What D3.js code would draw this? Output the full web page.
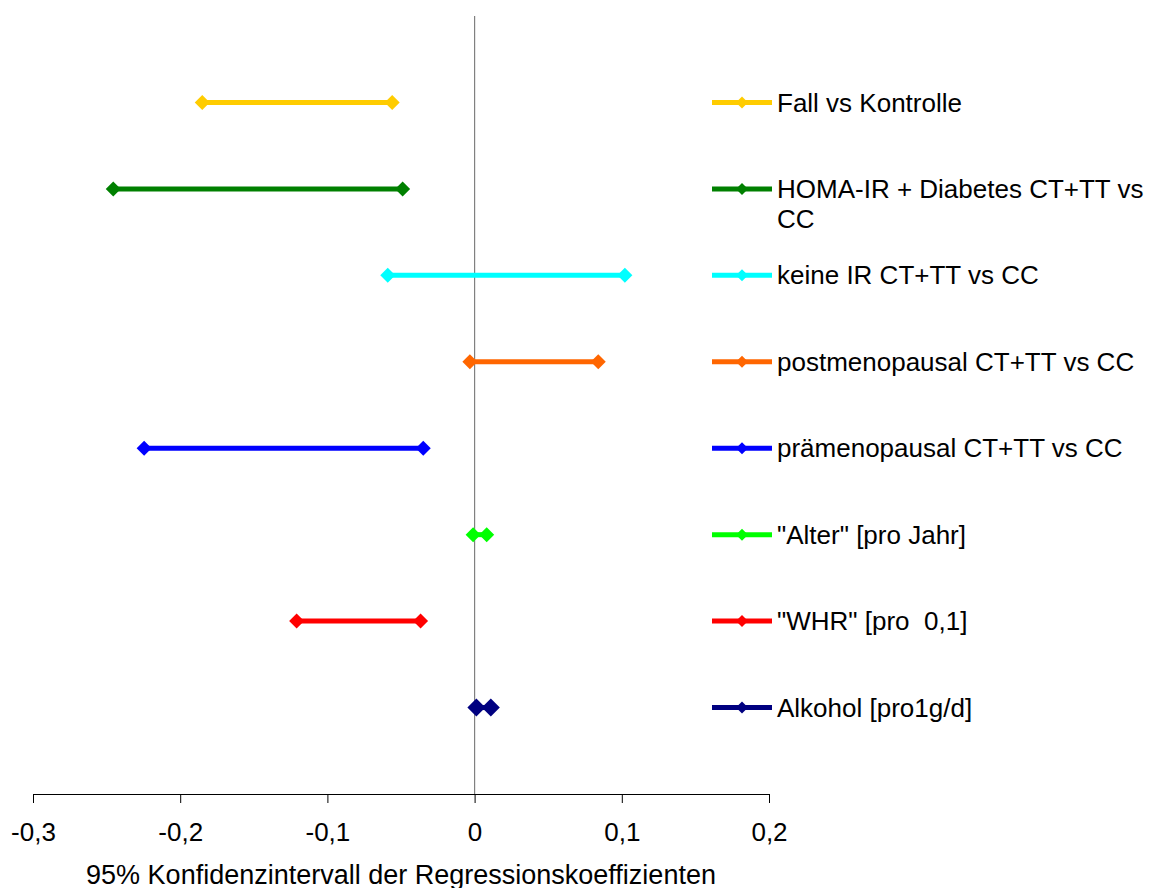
<!DOCTYPE html>
<html>
<head>
<meta charset="utf-8">
<script src="https://cdn.jsdelivr.net/npm/d3@7"></script>
<style>
  body { margin: 0; background: #fff; }
  svg text { font-family: "Liberation Sans", Arial, sans-serif; fill: #000; white-space: pre; }
</style>
</head>
<body>
<div id="chart"></div>
<script>
// series labels, top to bottom
const labels = [
  'Fall vs Kontrolle',
  'HOMA-IR + Diabetes CT+TT vs CC',
  'keine IR CT+TT vs CC',
  'postmenopausal CT+TT vs CC',
  'prämenopausal CT+TT vs CC',
  '"Alter" [pro Jahr]',
  '"WHR" [pro  0,1]',
  'Alkohol [pro1g/d]'
];
// lower and upper bound of the 95% CI
const lower = [-0.185, -0.2455, -0.059, -0.0032, -0.2245, -0.001, -0.1209, 0.0012];
const upper = [-0.056, -0.0489, 0.1021, 0.084, -0.0349, 0.0082, -0.0367, 0.011];
const colors = ['#FFCC00', '#008000', '#00FFFF', '#FF6600', '#0000FF', '#00FF00', '#FF0000', '#000080'];
const tickValues = [-0.3, -0.2, -0.1, 0, 0.1, 0.2];
const axisTitle = '95% Konfidenzintervall der Regressionskoeffizienten';

const width = 1156, height = 888;
const svg = d3.select('#chart').append('svg')
  .attr('width', width)
  .attr('height', height);

const x = d3.scaleLinear().domain([-0.3, 0.2]).range([33, 769]);
const y = d3.scaleLinear().domain([0, labels.length + 1]).range([16, 794]);
// German decimal comma, plain hyphen as minus
const fmt = d => d === 0 ? '0' : d.toFixed(1).replace('.', ',');

// x axis at the bottom
const axis = svg.append('g')
  .attr('transform', `translate(0,${y(labels.length + 1)})`)
  .call(d3.axisBottom(x).tickValues(tickValues).tickFormat(fmt).tickSize(9).tickPadding(20));
axis.select('.domain').attr('stroke', '#000').attr('stroke-width', 1);
axis.selectAll('.tick line').attr('stroke', '#000');
axis.selectAll('.tick text')
  .style('font-size', '26px')
  .style('font-family', '"Liberation Sans", Arial, sans-serif');

// zero line
svg.append('line')
  .attr('x1', x(0)).attr('x2', x(0))
  .attr('y1', y(0)).attr('y2', y(labels.length + 1))
  .attr('stroke', '#808080')
  .attr('stroke-width', 1.2);

svg.append('text')
  .attr('x', 401)
  .attr('y', 884)
  .attr('text-anchor', 'middle')
  .style('font-size', '27px')
  .text(axisTitle);

const diamond = s => `M0,${-s}L${s},0L0,${s}L${-s},0Z`;

// interval lines
const rows = svg.append('g').selectAll('g')
  .data(labels.map((l, i) => ({ label: l, lo: lower[i], hi: upper[i], color: colors[i], i })))
  .enter().append('g');

rows.append('line')
  .attr('x1', d => x(d.lo)).attr('x2', d => x(d.hi))
  .attr('y1', d => y(d.i + 1)).attr('y2', d => y(d.i + 1))
  .attr('stroke', d => d.color)
  .attr('stroke-width', 5);

rows.selectAll('path')
  .data(d => [d.lo, d.hi].map(v => ({ v, d })))
  .enter().append('path')
  .attr('d', p => diamond(p.d.i === 7 ? 9 : 7.5))
  .attr('transform', p => `translate(${x(p.v)},${y(p.d.i + 1)})`)
  .attr('fill', p => p.d.color);

// legend
const legend = svg.append('g').selectAll('g')
  .data(labels.map((l, i) => ({ label: l, color: colors[i], i })))
  .enter().append('g')
  .attr('transform', d => `translate(712,${y(d.i + 1)})`);

legend.append('line')
  .attr('x1', 0).attr('x2', 60)
  .attr('stroke', d => d.color)
  .attr('stroke-width', 5);
legend.append('path')
  .attr('d', diamond(6))
  .attr('transform', 'translate(30,0)')
  .attr('fill', d => d.color);

legend.append('text')
  .attr('x', 65)
  .attr('dy', '0.35em')
  .style('font-size', '26px')
  .each(function (d) {
    const t = d3.select(this);
    const words = d.label.split(' ');
    let line = [];
    let tspan = t.append('tspan').attr('x', 65);
    words.forEach(w => {
      line.push(w);
      tspan.text(line.join(' '));
      if (tspan.node().getComputedTextLength() > 378 && line.length > 1) {
        line.pop();
        tspan.text(line.join(' '));
        line = [w];
        tspan = t.append('tspan').attr('x', 65).attr('dy', 30).text(w);
      }
    });
  });
</script>
</body>
</html>
